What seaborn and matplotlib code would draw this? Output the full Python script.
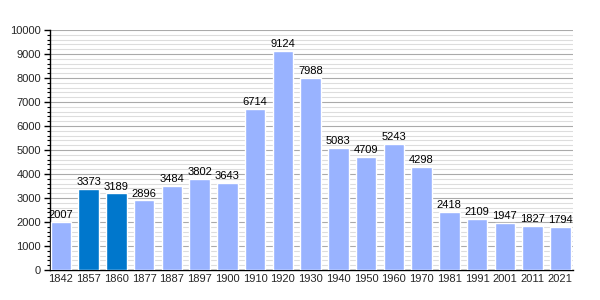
import matplotlib
matplotlib.use("Agg")
import matplotlib.pyplot as plt
import seaborn as sns
import pandas as pd
from matplotlib.ticker import MultipleLocator

years = ["1842", "1857", "1860", "1877", "1887", "1897", "1900", "1910", "1920", "1930",
         "1940", "1950", "1960", "1970", "1981", "1991", "2001", "2011", "2021"]
population = [2007, 3373, 3189, 2896, 3484, 3802, 3643, 6714, 9124, 7988,
              5083, 4709, 5243, 4298, 2418, 2109, 1947, 1827, 1794]
highlight = ["1857", "1860"]

df = pd.DataFrame({"year": years, "pop": population})
df["kind"] = ["dark" if y in highlight else "light" for y in years]

sns.set_style("white")
plt.rcParams["font.family"] = ["Liberation Sans", "DejaVu Sans"]

fig = plt.figure(figsize=(6, 3), dpi=100)
ax = fig.add_axes([49.5/600, 30/300, 523.5/600, 240/300])

sns.barplot(data=df, x="year", y="pop", hue="kind",
            palette={"light": "#99b3ff", "dark": "#0077cc"},
            dodge=False, width=0.74, saturation=1, legend=False, ax=ax, zorder=3)

ax.set_xlim(-0.413, 18.457)
ax.set_ylim(0, 10000)
ax.yaxis.set_major_locator(MultipleLocator(1000))
ax.yaxis.set_minor_locator(MultipleLocator(200))
ax.grid(which="major", axis="y", color="#aaaaaa", linewidth=0.8, zorder=0)
ax.grid(which="minor", axis="y", color="#dddddd", linewidth=0.8, zorder=0)
ax.set_axisbelow(True)

for s in ["top", "right"]:
    ax.spines[s].set_visible(False)
for s in ["left", "bottom"]:
    ax.spines[s].set_color("black")
    ax.spines[s].set_linewidth(1)

ax.tick_params(axis="y", which="major", direction="out", length=4, width=1,
               color="black", labelsize=8, left=True, pad=2)
ax.tick_params(axis="y", which="minor", direction="out", length=2, width=0.8,
               color="black", left=True)
ax.tick_params(axis="x", length=0, labelsize=8, pad=3)
ax.set_xlabel("")
ax.set_ylabel("")

for i, v in enumerate(population):
    ax.text(i, v + 80, str(v), ha="center", va="bottom", fontsize=8, color="black", zorder=5)

fig.savefig("out.png", dpi=100)
